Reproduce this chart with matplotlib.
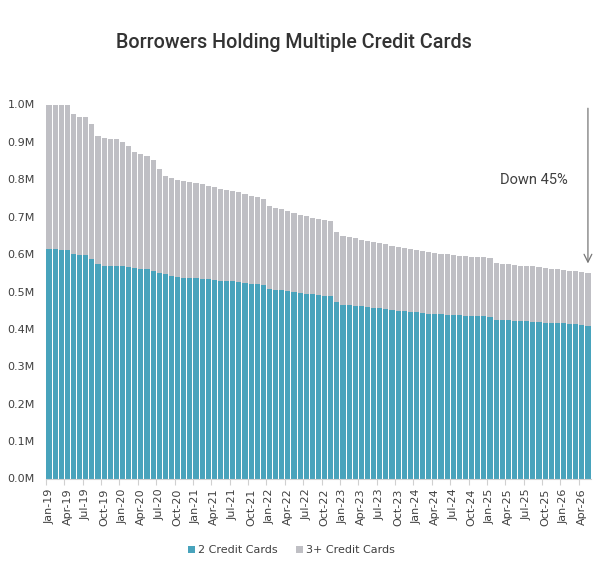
import matplotlib
matplotlib.use('Agg')
import matplotlib.pyplot as plt
import numpy as np
import pandas as pd


# Monthly values (millions of borrowers)
months = pd.date_range('2019-01-01', periods=89, freq='MS').strftime('%b-%y').tolist()

two_cards = [0.614, 0.614, 0.612, 0.612, 0.601, 0.598, 0.598, 0.588, 0.573, 0.569,
             0.569, 0.569, 0.569, 0.566, 0.563, 0.560, 0.559, 0.556, 0.550, 0.546,
             0.542, 0.540, 0.537, 0.535, 0.535, 0.534, 0.533, 0.532, 0.529, 0.528,
             0.527, 0.525, 0.524, 0.521, 0.520, 0.517, 0.508, 0.505, 0.504, 0.502,
             0.499, 0.497, 0.494, 0.493, 0.491, 0.489, 0.489, 0.471, 0.465, 0.464,
             0.462, 0.460, 0.459, 0.457, 0.455, 0.453, 0.451, 0.449, 0.448, 0.446,
             0.445, 0.443, 0.441, 0.441, 0.439, 0.438, 0.437, 0.436, 0.435, 0.435,
             0.435, 0.435, 0.433, 0.425, 0.424, 0.423, 0.422, 0.421, 0.421, 0.419,
             0.418, 0.417, 0.416, 0.415, 0.415, 0.413, 0.412, 0.411, 0.409]

three_plus = [0.386, 0.386, 0.388, 0.388, 0.374, 0.369, 0.369, 0.360, 0.344, 0.341,
              0.338, 0.338, 0.331, 0.324, 0.310, 0.308, 0.302, 0.295, 0.277, 0.264,
              0.261, 0.259, 0.258, 0.258, 0.254, 0.253, 0.250, 0.247, 0.246, 0.244,
              0.243, 0.241, 0.237, 0.234, 0.232, 0.229, 0.221, 0.219, 0.217, 0.213,
              0.211, 0.208, 0.207, 0.203, 0.203, 0.201, 0.200, 0.188, 0.184, 0.183,
              0.180, 0.179, 0.176, 0.175, 0.176, 0.173, 0.171, 0.171, 0.168, 0.168,
              0.166, 0.165, 0.165, 0.162, 0.162, 0.161, 0.160, 0.159, 0.159, 0.157,
              0.157, 0.157, 0.157, 0.151, 0.150, 0.150, 0.148, 0.148, 0.147, 0.148,
              0.147, 0.146, 0.144, 0.144, 0.142, 0.143, 0.142, 0.141, 0.140]

y_ticks = [0.0, 0.1, 0.2, 0.3, 0.4, 0.5, 0.6, 0.7, 0.8, 0.9, 1.0]
y_tick_labels = ['0.0M', '0.1M', '0.2M', '0.3M', '0.4M', '0.5M',
                 '0.6M', '0.7M', '0.8M', '0.9M', '1.0M']

teal = '#48a3bc'
grey = '#bfbfc4'
text_col = '#404040'

fig = plt.figure(figsize=(6.0, 5.72), dpi=100)
ax = fig.add_axes([46 / 600, 93.5 / 572, 545 / 600, 374 / 572])

x = np.arange(len(months))
ax.bar(x, two_cards, width=0.84, color=teal, label='2 Credit Cards')
ax.bar(x, three_plus, width=0.84, bottom=two_cards, color=grey, label='3+ Credit Cards')

ax.set_xlim(-0.5, len(months) - 0.5)
ax.set_ylim(0, 1.0)

# y axis: labels only, no line, no ticks
ax.set_yticks(y_ticks)
ax.set_yticklabels(y_tick_labels, fontsize=8, color=text_col, family='DejaVu Sans')
ax.tick_params(axis='y', length=0, pad=8)

# x axis: labels on every 3rd month centre, tick marks on category boundaries
lab_pos = x[::3]
ax.set_xticks(lab_pos)
ax.set_xticklabels([months[i] for i in lab_pos], rotation=90, fontsize=8,
                   color=text_col, family='DejaVu Sans')
ax.tick_params(axis='x', which='major', length=0, pad=7)
ax.set_xticks(lab_pos - 0.5, minor=True)
ax.tick_params(axis='x', which='minor', length=4, color='#d0d0d0', width=0.8)

for s in ['top', 'right', 'left']:
    ax.spines[s].set_visible(False)
ax.spines['bottom'].set_color('#d0d0d0')
ax.spines['bottom'].set_linewidth(0.8)

# Down 45% annotation
ax.annotate('', xy=(88, 0.575), xytext=(88, 0.99),
            arrowprops=dict(arrowstyle='->', color='#777777', lw=0.9,
                            mutation_scale=14, shrinkA=0, shrinkB=0))
ax.text(79.1, 0.798, 'Down 45%', fontsize=10.5, color=text_col,
        family='Roboto', ha='center', va='center')

fig.text(0.49, 1 - 42 / 572, 'Borrowers Holding Multiple Credit Cards',
         fontsize=14.2, color='#333333', family='Roboto', fontweight='medium',
         ha='center', va='center')

leg = fig.legend(loc='center', bbox_to_anchor=(0.486, 22 / 572), ncol=2,
                 frameon=False, fontsize=8, handlelength=0.6, handleheight=0.6,
                 handletextpad=0.3, columnspacing=1.6)
for t in leg.get_texts():
    t.set_color(text_col)

fig.savefig('out.png', dpi=100)
